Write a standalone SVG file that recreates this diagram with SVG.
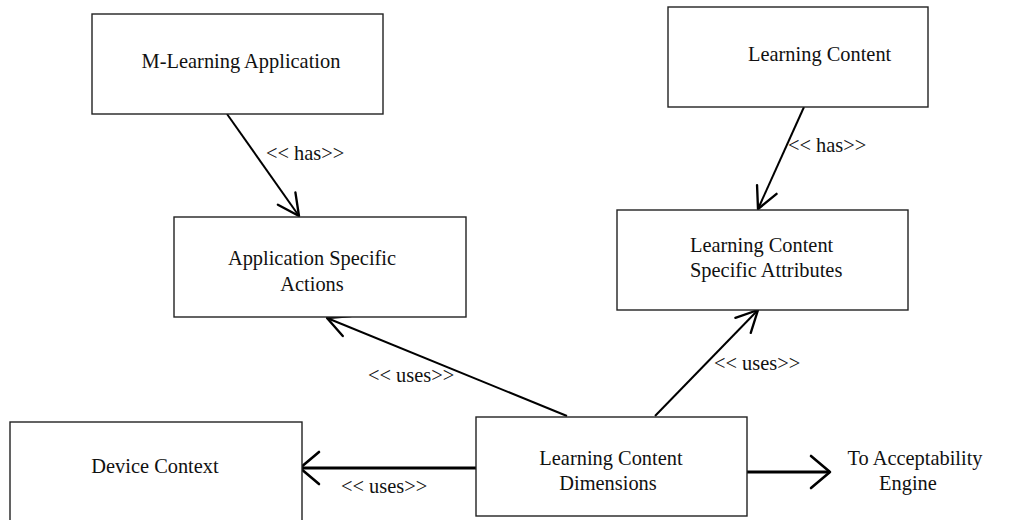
<svg xmlns="http://www.w3.org/2000/svg" width="1023" height="520" viewBox="0 0 1023 520">
  <style>
    .box { fill: #ffffff; stroke: #222222; stroke-width: 1.4; }
    .lbl { font-family: "Liberation Serif", "Times New Roman", serif; font-size: 20.4px; fill: #111111; }
    .mid { text-anchor: middle; }
    .edge { fill: none; stroke: #000000; stroke-width: 2; }
    .thick { stroke-width: 3; }
  </style>
  <defs>
    <marker id="head" markerUnits="userSpaceOnUse" markerWidth="30" markerHeight="30" viewBox="-24 -14 28 28" refX="0" refY="0" orient="auto">
      <path d="M -20 -10 L 0 0 L -20 10" fill="none" stroke="#000" stroke-width="2.2" stroke-linecap="round" stroke-linejoin="round"/>
    </marker>
    <marker id="headBig" markerUnits="userSpaceOnUse" markerWidth="34" markerHeight="40" viewBox="-24 -20 28 40" refX="0" refY="0" orient="auto">
      <path d="M -19 -16 L 0 0 L -19 16" fill="none" stroke="#000" stroke-width="2.6" stroke-linecap="round" stroke-linejoin="round"/>
    </marker>
  </defs>

  <rect width="1023" height="520" fill="#ffffff"/>

  <g id="connectors">
    <line class="edge" x1="227" y1="114" x2="299" y2="216" marker-end="url(#head)"/>
    <line class="edge" x1="804" y1="107" x2="758" y2="209" marker-end="url(#head)"/>
    <line class="edge" x1="567" y1="416" x2="327" y2="318" marker-end="url(#head)"/>
    <line class="edge" x1="655" y1="416" x2="758" y2="310" marker-end="url(#head)"/>
    <line class="edge thick" x1="476" y1="468" x2="300" y2="468" marker-end="url(#headBig)"/>
    <line class="edge thick" x1="747" y1="472" x2="830" y2="472" marker-end="url(#headBig)"/>
    <text class="lbl" x="266" y="160">&lt;&lt; has&gt;&gt;</text>
    <text class="lbl" x="788" y="152">&lt;&lt; has&gt;&gt;</text>
    <text class="lbl" x="368" y="382">&lt;&lt; uses&gt;&gt;</text>
    <text class="lbl" x="714" y="370">&lt;&lt; uses&gt;&gt;</text>
    <text class="lbl" x="341" y="493">&lt;&lt; uses&gt;&gt;</text>
  </g>

  <g id="m-learning-application">
    <rect class="box" x="92" y="14" width="291" height="100"/>
    <text class="lbl mid" x="241" y="68">M-Learning Application</text>
  </g>

  <g id="learning-content">
    <rect class="box" x="668" y="7" width="260" height="100"/>
    <text class="lbl" x="748" y="61">Learning Content</text>
  </g>

  <g id="application-specific-actions">
    <rect class="box" x="174" y="217" width="292" height="100"/>
    <text class="lbl mid" x="312" y="265">Application Specific</text>
    <text class="lbl mid" x="312" y="291">Actions</text>
  </g>

  <g id="learning-content-specific-attributes">
    <rect class="box" x="617" y="210" width="291" height="100"/>
    <text class="lbl" x="690" y="252">Learning Content</text>
    <text class="lbl" x="690" y="277">Specific Attributes</text>
  </g>

  <g id="device-context">
    <rect class="box" x="10" y="422" width="292" height="110"/>
    <text class="lbl mid" x="155" y="473">Device Context</text>
  </g>

  <g id="learning-content-dimensions">
    <rect class="box" x="476" y="417" width="271" height="99"/>
    <text class="lbl mid" x="611" y="465">Learning Content</text>
    <text class="lbl mid" x="608" y="490">Dimensions</text>
  </g>

  <g id="acceptability-engine">
    <text class="lbl mid" x="915" y="465">To Acceptability</text>
    <text class="lbl mid" x="908" y="490">Engine</text>
  </g>
</svg>
